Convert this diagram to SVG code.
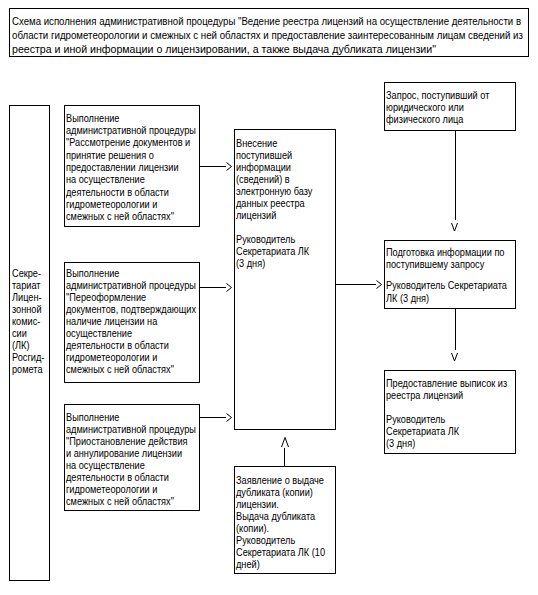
<svg xmlns="http://www.w3.org/2000/svg" width="538" height="595" viewBox="0 0 538 595">
<style>
rect{fill:#fff;stroke:#000;stroke-width:1}
text{font-family:"Liberation Sans",Arial,sans-serif;font-size:10px;fill:#000}
.c line,.c polyline{stroke:#000;stroke-width:1;fill:none}
</style>
<rect x="0" y="0" width="538" height="595" style="stroke:none"/>
<g id="title">
<rect x="9.5" y="8.5" width="519" height="48"/>
<g transform="translate(12 0) scale(0.94 1)">
<text x="0" y="25" textLength="541.5" lengthAdjust="spacingAndGlyphs">Схема исполнения административной процедуры "Ведение реестра лицензий на осуществление деятельности в</text>
<text x="0" y="39" textLength="543.6" lengthAdjust="spacingAndGlyphs">области гидрометеорологии и смежных с ней областях и предоставление заинтересованным лицам сведений из</text>
<text x="0" y="53" textLength="451" lengthAdjust="spacingAndGlyphs">реестра и иной информации о лицензировании, а также выдача дубликата лицензии"</text>
</g>
</g>
<g id="secretariat">
<rect x="9.5" y="105.5" width="40" height="475"/>
<g transform="translate(12 0) scale(0.92 1)">
<text x="0" y="277">Секре-</text>
<text x="0" y="289">тариат</text>
<text x="0" y="301">Лицен-</text>
<text x="0" y="313">зонной</text>
<text x="0" y="325">комис-</text>
<text x="0" y="337">сии</text>
<text x="0" y="349">(ЛК)</text>
<text x="0" y="361">Росгид-</text>
<text x="0" y="373">ромета</text>
</g>
</g>
<g id="proc1">
<rect x="64.5" y="105.5" width="135" height="121"/>
<g transform="translate(66 0) scale(0.92 1)">
<text x="0" y="122">Выполнение</text>
<text x="0" y="134">административной процедуры</text>
<text x="0" y="146">"Рассмотрение документов и</text>
<text x="0" y="159">принятие решения о</text>
<text x="0" y="171">предоставлении лицензии</text>
<text x="0" y="183">на осуществление</text>
<text x="0" y="196">деятельности в области</text>
<text x="0" y="208">гидрометеорологии и</text>
<text x="0" y="220">смежных с ней областях"</text>
</g>
</g>
<g id="proc2">
<rect x="64.5" y="262.5" width="135" height="120"/>
<g transform="translate(66 0) scale(0.92 1)">
<text x="0" y="277">Выполнение</text>
<text x="0" y="289">административной процедуры</text>
<text x="0" y="301">"Переоформление</text>
<text x="0" y="313">документов, подтверждающих</text>
<text x="0" y="325">наличие лицензии на</text>
<text x="0" y="337">осуществление</text>
<text x="0" y="349">деятельности в области</text>
<text x="0" y="361">гидрометеорологии и</text>
<text x="0" y="373">смежных с ней областях"</text>
</g>
</g>
<g id="proc3">
<rect x="64.5" y="404.5" width="135" height="106"/>
<g transform="translate(66 0) scale(0.92 1)">
<text x="0" y="421">Выполнение</text>
<text x="0" y="433">административной процедуры</text>
<text x="0" y="445">"Приостановление действия</text>
<text x="0" y="457">и аннулирование лицензии</text>
<text x="0" y="469">на осуществление</text>
<text x="0" y="481">деятельности в области</text>
<text x="0" y="493">гидрометеорологии и</text>
<text x="0" y="505">смежных с ней областях"</text>
</g>
</g>
<g id="entry">
<rect x="234.5" y="129.5" width="101" height="300"/>
<g transform="translate(236 0) scale(0.92 1)">
<text x="0" y="147">Внесение</text>
<text x="0" y="159">поступившей</text>
<text x="0" y="171">информации</text>
<text x="0" y="183">(сведений) в</text>
<text x="0" y="195">электронную базу</text>
<text x="0" y="207">данных реестра</text>
<text x="0" y="219">лицензий</text>
<text x="0" y="243">Руководитель</text>
<text x="0" y="255">Секретариата ЛК</text>
<text x="0" y="267">(3 дня)</text>
</g>
</g>
<g id="duplicate">
<rect x="234.5" y="466.5" width="101" height="107"/>
<g transform="translate(236 0) scale(0.92 1)">
<text x="0" y="484">Заявление о выдаче</text>
<text x="0" y="496">дубликата (копии)</text>
<text x="0" y="508">лицензии.</text>
<text x="0" y="520">Выдача дубликата</text>
<text x="0" y="532">(копии).</text>
<text x="0" y="544">Руководитель</text>
<text x="0" y="556">Секретариата ЛК (10</text>
<text x="0" y="568">дней)</text>
</g>
</g>
<g id="request">
<rect x="384.5" y="82.5" width="131" height="48"/>
<g transform="translate(386 0) scale(0.92 1)">
<text x="0" y="99">Запрос, поступивший от</text>
<text x="0" y="111">юридического или</text>
<text x="0" y="123">физического лица</text>
</g>
</g>
<g id="prepare">
<rect x="384.5" y="240.5" width="131" height="68"/>
<g transform="translate(386 0) scale(0.92 1)">
<text x="0" y="256">Подготовка информации по</text>
<text x="0" y="268">поступившему запросу</text>
<text x="0" y="289">Руководитель Секретариата</text>
<text x="0" y="302">ЛК (3 дня)</text>
</g>
</g>
<g id="extract">
<rect x="384.5" y="370.5" width="131" height="83"/>
<g transform="translate(386 0) scale(0.92 1)">
<text x="0" y="387">Предоставление выписок из</text>
<text x="0" y="399">реестра лицензий</text>
<text x="0" y="423">Руководитель</text>
<text x="0" y="435">Секретариата ЛК</text>
<text x="0" y="447">(3 дня)</text>
</g>
</g>
<g id="connectors" class="c">
<line x1="199.5" y1="166.5" x2="226" y2="166.5"/>
<polyline points="226.5,162.5 231.5,166.5 226.5,170.5"/>
<line x1="199.5" y1="287.5" x2="226" y2="287.5"/>
<polyline points="226.5,283.5 231.5,287.5 226.5,291.5"/>
<line x1="199.5" y1="417.5" x2="226" y2="417.5"/>
<polyline points="226.5,413.5 231.5,417.5 226.5,421.5"/>
<line x1="335.5" y1="284.5" x2="376" y2="284.5"/>
<polyline points="376.5,280.5 381.5,284.5 376.5,288.5"/>
<line x1="455.5" y1="130.5" x2="455.5" y2="220"/>
<polyline points="451.5,223 454.5,231 457.5,223"/>
<line x1="455.5" y1="308.5" x2="455.5" y2="350"/>
<polyline points="451.5,353 454.5,361 457.5,353"/>
<line x1="284.5" y1="466.5" x2="284.5" y2="448"/>
<polyline points="281.5,447 285,437.5 288.5,447"/>
</g>
</svg>
